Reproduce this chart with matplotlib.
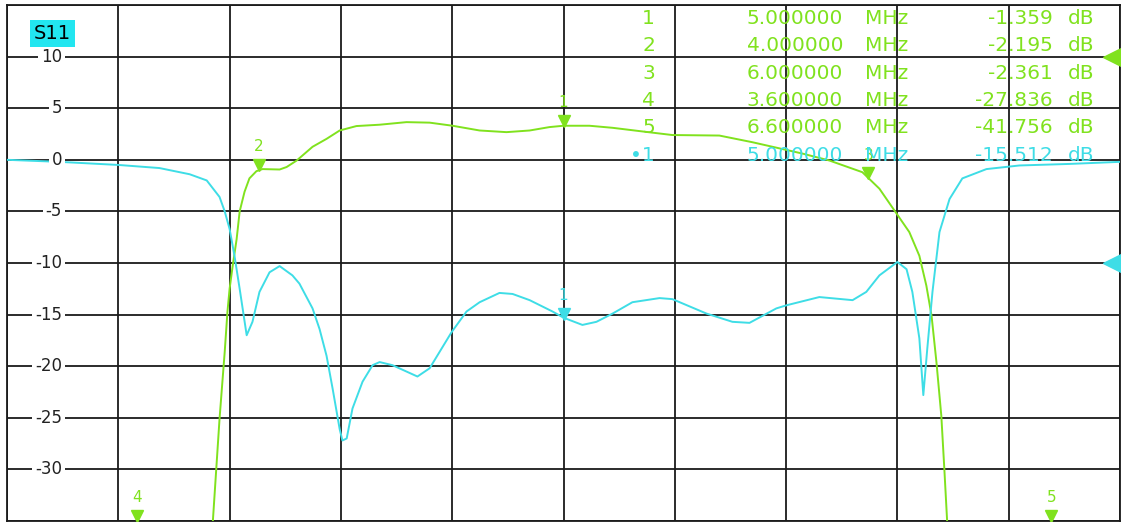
import matplotlib
matplotlib.use('Agg')
import matplotlib.pyplot as plt
import matplotlib.transforms as mtransforms

# S11 trace (cyan), frequency in MHz, level in dB
s11_freq = [3.174, 3.348, 3.541, 3.675, 3.774, 3.830, 3.872, 3.889, 3.905, 3.921,
            3.938, 3.961, 3.980, 4.003, 4.036, 4.069, 4.111, 4.134, 4.177, 4.200,
            4.223, 4.243, 4.266, 4.275, 4.289, 4.308, 4.341, 4.374, 4.397, 4.439,
            4.521, 4.561, 4.633, 4.682, 4.725, 4.790, 4.833, 4.889, 4.964, 5.000,
            5.062, 5.108, 5.161, 5.226, 5.315, 5.357, 5.469, 5.554, 5.610, 5.698,
            5.731, 5.839, 5.948, 5.993, 6.036, 6.095, 6.125, 6.144, 6.167, 6.180,
            6.193, 6.210, 6.233, 6.266, 6.308, 6.387, 6.495, 6.659, 6.823]
s11_db = [0.0, -0.2, -0.5, -0.8, -1.4, -2.0, -3.6, -5.0, -6.7, -9.3,
          -12.5, -17.0, -15.7, -12.8, -10.9, -10.3, -11.2, -12.0, -14.4, -16.4,
          -19.0, -22.2, -26.1, -27.2, -27.0, -24.1, -21.5, -19.9, -19.6, -19.9,
          -21.0, -20.2, -16.7, -14.7, -13.8, -12.9, -13.0, -13.6, -14.7, -15.3,
          -16.0, -15.7, -14.9, -13.8, -13.4, -13.5, -14.9, -15.7, -15.8, -14.4,
          -14.1, -13.3, -13.6, -12.8, -11.2, -9.9, -10.6, -12.8, -17.3, -22.8,
          -18.3, -12.8, -7.0, -3.8, -1.8, -0.9, -0.55, -0.4, -0.2]

# S21 trace (green)
s21_freq = [3.849, 3.872, 3.889, 3.898, 3.905, 3.915, 3.928, 3.938, 3.954, 3.970,
            3.993, 4.013, 4.069, 4.092, 4.125, 4.177, 4.223, 4.266, 4.321, 4.397,
            4.485, 4.561, 4.636, 4.725, 4.813, 4.889, 4.954, 5.000, 5.085, 5.161,
            5.272, 5.357, 5.511, 5.620, 5.784, 5.872, 5.980, 6.036, 6.092, 6.134,
            6.167, 6.190, 6.207, 6.223, 6.239, 6.249, 6.259]
s21_db = [-35.5, -25.1, -18.6, -14.7, -12.5, -10.3, -7.7, -5.0, -3.1, -1.8,
          -1.1, -0.9, -0.94, -0.7, -0.07, 1.26, 2.03, 2.84, 3.27, 3.4,
          3.65, 3.6, 3.3, 2.84, 2.68, 2.84, 3.17, 3.3, 3.3, 3.1,
          2.7, 2.4, 2.35, 1.7, 0.6, -0.07, -1.2, -2.8, -5.2, -7.0,
          -9.3, -12.2, -15.1, -19.6, -24.8, -30.0, -35.5]

# marker table
marker_ids = ['1', '2', '3', '4', '5', '\u20221']
marker_freqs = ['5.000000', '4.000000', '6.000000', '3.600000', '6.600000', '5.000000']
marker_vals = ['-1.359', '-2.195', '-2.361', '-27.836', '-41.756', '-15.512']

# marker triangles drawn on the traces (label, MHz, dB position of triangle)
s21_marks = [('1', 5.0, 3.8), ('2', 4.0, -0.5), ('3', 6.0, -1.3), ('4', 3.6, -34.5), ('5', 6.6, -34.5)]
s11_marks = [('1', 5.0, -14.9)]

ytick_vals = [10, 5, 0, -5, -10, -15, -20, -25, -30]

cyan = '#3EDDE6'
green = '#80E21E'

fig = plt.figure(figsize=(11.21, 5.22), dpi=100)
ax = fig.add_axes([7 / 1121, 1 / 522, 1113 / 1121, 516 / 522])

f_start, f_stop = 3.175, 6.825
ax.set_xlim(f_start, f_stop)
ax.set_ylim(-35, 15)
ax.set_xticks([f_start + (f_stop - f_start) * i / 10 for i in range(11)])
ax.set_yticks(range(-35, 16, 5))
ax.tick_params(length=0, labelbottom=False, labelleft=False)
ax.grid(True, color='#1a1a1a', linewidth=1.3)
for sp in ax.spines.values():
    sp.set_color('#1a1a1a')
    sp.set_linewidth(1.3)

ax.plot(s21_freq, s21_db, color=green, linewidth=1.4, zorder=3)
ax.plot(s11_freq, s11_db, color=cyan, linewidth=1.4, zorder=3)

# y scale labels inside the grid
for v in ytick_vals:
    ax.text(0.0494, v, str(v), transform=ax.get_yaxis_transform(), ha='right', va='center',
            fontsize=12, color='#222222', zorder=4,
            bbox=dict(facecolor='white', edgecolor='none', pad=2))

ax.text(0.024, 0.944, 'S11', transform=ax.transAxes, fontsize=14, color='black',
        ha='left', va='center', zorder=5,
        bbox=dict(facecolor='#22E6F0', edgecolor='none', pad=3))

# markers
for lab, f, v in s21_marks:
    ax.plot(f, v, marker='v', color=green, markersize=9, zorder=5, clip_on=False)
    ax.annotate(lab, (f, v), xytext=(0, 13), textcoords='offset points', ha='center',
                va='center', fontsize=11, color=green, zorder=5)
for lab, f, v in s11_marks:
    ax.plot(f, v, marker='v', color=cyan, markersize=9, zorder=5)
    ax.annotate(lab, (f, v), xytext=(0, 13), textcoords='offset points', ha='center',
                va='center', fontsize=11, color=cyan, zorder=5)

# reference level arrows at right edge
ref_tr = mtransforms.blended_transform_factory(ax.transAxes, ax.transData)
ax.plot(0.993, 10, marker='<', color=green, markersize=13, transform=ref_tr, clip_on=False, zorder=6)
ax.plot(0.993, -10, marker='<', color=cyan, markersize=13, transform=ref_tr, clip_on=False, zorder=6)

# marker readout table
row0 = (521 - 18.3) / 516
drow = 27.4 / 516
for i in range(len(marker_ids)):
    c = cyan if i == 5 else green
    y = row0 - i * drow
    kw = dict(transform=ax.transAxes, va='center', fontsize=14.5, color=c, zorder=6)
    ax.text((655 - 7) / 1113, y, marker_ids[i], ha='right', **kw)
    ax.text((843 - 7) / 1113, y, marker_freqs[i], ha='right', **kw)
    ax.text((865 - 7) / 1113, y, 'MHz', ha='left', **kw)
    ax.text((1053 - 7) / 1113, y, marker_vals[i], ha='right', **kw)
    ax.text((1068 - 7) / 1113, y, 'dB', ha='left', **kw)

fig.savefig('out.png', dpi=100)
